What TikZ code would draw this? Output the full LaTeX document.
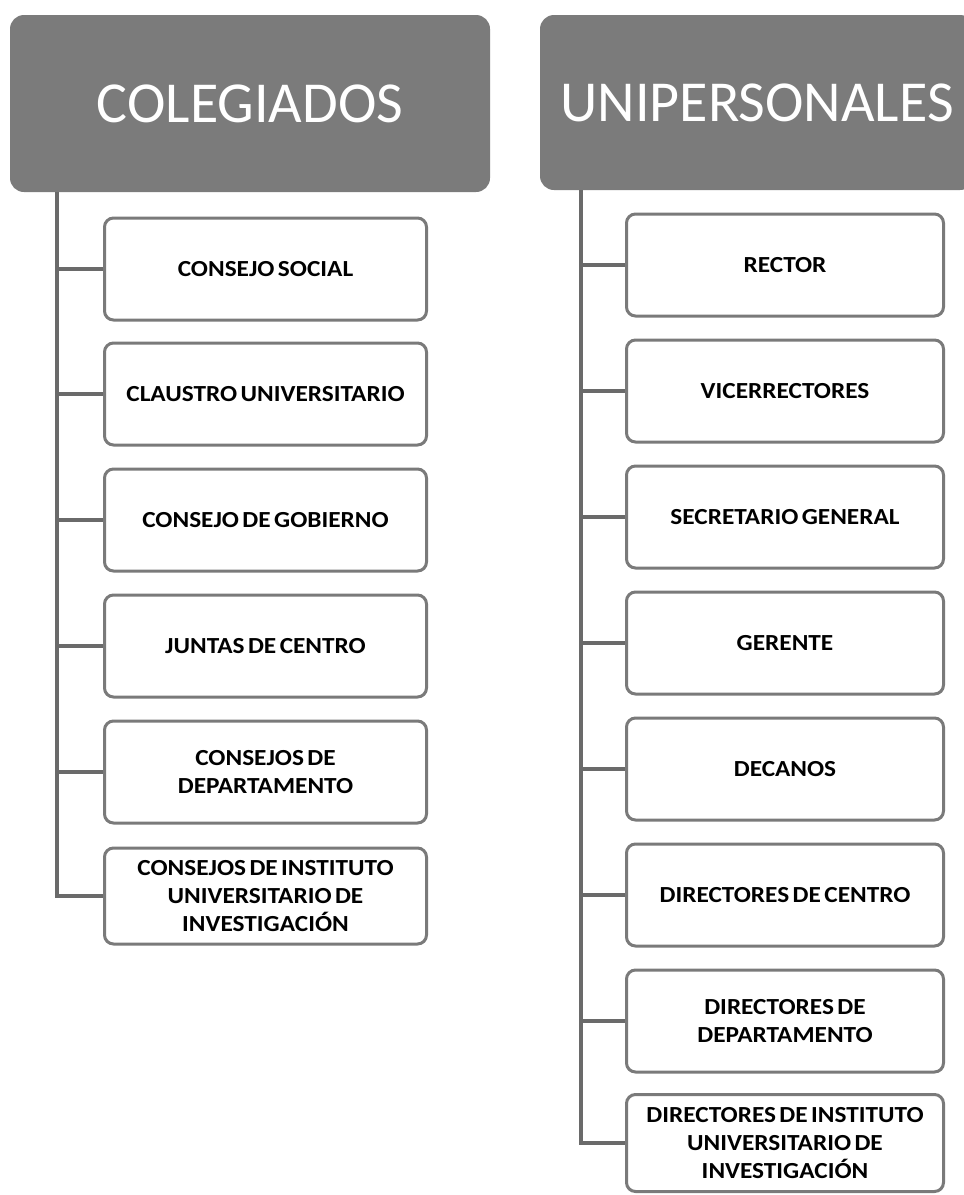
\documentclass[tikz,border=0pt]{standalone}
\usepackage{fontspec}
\setmainfont{Carlito}
\newfontfamily\boxfont{Carlito}[FakeStretch=1.1, WordSpace=0.6]
\definecolor{headgray}{HTML}{7B7B7B}
\definecolor{boxgray}{HTML}{7A7A7A}
\definecolor{linegray}{HTML}{6A6A6A}
\begin{document}
\begin{tikzpicture}[x=1pt,y=-1pt,
  head/.style={fill=headgray, rounded corners=14pt, text=white, inner sep=0pt,
    font=\fontsize{58}{70}\selectfont},
  item/.style={draw=boxgray, line width=3pt, rounded corners=9pt, fill=white,
    minimum height=102pt, align=center, inner sep=0pt,
    font=\boxfont\bfseries\fontsize{23}{28}\selectfont},
  itemL/.style={item, minimum width=322pt},
  itemR/.style={item, minimum width=317pt},
  link/.style={draw=linegray, line width=4pt}]
\useasboundingbox (0,0) rectangle (964,1195);
\clip (0,0) rectangle (964,1195);
% headers
\node[head, minimum width=480pt, minimum height=177pt] (hl) at (250,103.5) {COLEGIADOS};
\node[head, minimum width=434pt, minimum height=175pt] (hr) at (757,102.5) {UNIPERSONALES};
% left column
\node[itemL] (l1) at (265.5,269) {CONSEJO SOCIAL};
\node[itemL] (l2) at (265.5,394) {CLAUSTRO UNIVERSITARIO};
\node[itemL] (l3) at (265.5,520) {CONSEJO DE GOBIERNO};
\node[itemL] (l4) at (265.5,646) {JUNTAS DE CENTRO};
\node[itemL] (l5) at (265.5,772) {CONSEJOS DE\\DEPARTAMENTO};
\node[itemL, minimum height=96pt] (l6) at (265.5,896) {CONSEJOS DE INSTITUTO\\UNIVERSITARIO DE\\INVESTIGACIÓN};
% right column
\node[itemR] (r1) at (785,265) {RECTOR};
\node[itemR] (r2) at (785,391) {VICERRECTORES};
\node[itemR] (r3) at (785,517) {SECRETARIO GENERAL};
\node[itemR] (r4) at (785,643) {GERENTE};
\node[itemR] (r5) at (785,769) {DECANOS};
\node[itemR] (r6) at (785,895) {DIRECTORES DE CENTRO};
\node[itemR] (r7) at (785,1021) {DIRECTORES DE\\DEPARTAMENTO};
\node[itemR, minimum height=97pt] (r8) at (785,1143) {DIRECTORES DE INSTITUTO\\UNIVERSITARIO DE\\INVESTIGACIÓN};
% trunks
\coordinate (tl) at (57,192);
\coordinate (tr) at (581,190);
\draw[link] (tl) |- (l6.west);
\draw[link] (tr) |- (r8.west);
\foreach \n in {l1,l2,l3,l4,l5} \draw[link] (\n.west -| tl) -- (\n.west);
\foreach \n in {r1,r2,r3,r4,r5,r6,r7} \draw[link] (\n.west -| tr) -- (\n.west);
\end{tikzpicture}
\end{document}
